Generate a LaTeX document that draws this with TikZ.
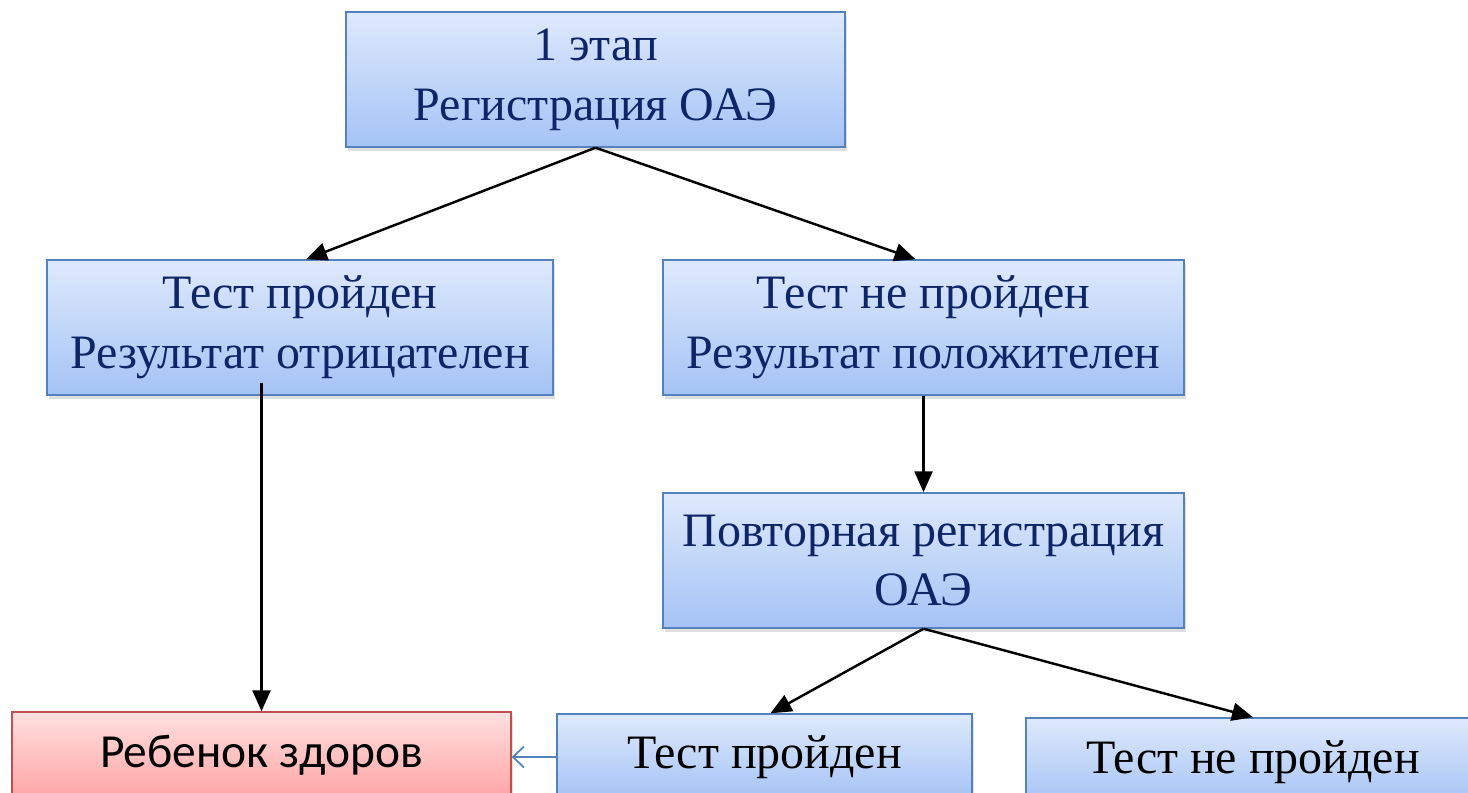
\documentclass[tikz,border=0pt]{standalone}
\usepackage{fontspec}
\setmainfont{Liberation Serif}
\newfontfamily\calfont{Carlito}
\usepackage{tikz}
\usetikzlibrary{arrows.meta,positioning,calc,shadows}
\definecolor{oaenavy}{RGB}{14,38,104}
\definecolor{oaeedge}{RGB}{84,130,190}
\definecolor{oaetop}{RGB}{222,233,252}
\definecolor{oaebot}{RGB}{164,195,245}
\definecolor{okedge}{RGB}{192,80,77}
\definecolor{oktop}{RGB}{255,224,224}
\definecolor{okbot}{RGB}{255,164,164}
\tikzset{
  stagebox/.style={draw=oaeedge, line width=0.8pt, top color=oaetop, bottom color=oaebot,
    minimum height=2.70cm, inner sep=2pt, align=center, text=oaenavy,
    font=\fontsize{27.3}{34}\selectfont,
    drop shadow={shadow xshift=0.04cm, shadow yshift=-0.08cm, opacity=0.25}},
  endbox/.style={stagebox, minimum height=1.72cm, text=black},
  okbox/.style={endbox, draw=okedge, top color=oktop, bottom color=okbot,
    font=\calfont\fontsize{27}{32}\selectfont},
  arr/.style={-{Triangle[length=0.42cm,width=0.36cm]}, black, line width=1.4pt},
  arrb/.style={-{Straight Barb[length=0.22cm,width=0.42cm]}, oaeedge, line width=1pt},
}
\begin{document}
\begin{tikzpicture}
  \useasboundingbox (0,0) rectangle (29.36,-15.86);
  \clip (0,0) rectangle (29.36,-15.86);
  % stages
  \node[stagebox, minimum width=9.98cm] (stage1) at (11.91,-1.59) {1 этап\\Регистрация ОАЭ};
  \node[stagebox, minimum width=10.12cm] (pass1) at (6.00,-6.55) {Тест пройден\\Результат отрицателен};
  \node[stagebox, minimum width=10.42cm] (fail1) at (18.47,-6.55) {Тест не пройден\\Результат положителен};
  \node[stagebox, minimum width=10.42cm] (stage2) at (18.47,-11.21) {Повторная регистрация\\ОАЭ};
  % outcomes
  \node[okbox, minimum width=9.98cm] (healthy) at (5.23,-15.10) {Ребенок здоров};
  \node[endbox, minimum width=8.30cm] (pass2) at (15.29,-15.14) {Тест пройден};
  \node[endbox, minimum width=9.08cm, minimum height=1.76cm] (fail2) at (25.06,-15.24) {Тест не пройден};
  % connectors
  \draw[arr] (stage1.south) -- ([xshift=0.12cm]pass1.north);
  \draw[arr] (stage1.south) -- ([xshift=-0.16cm]fail1.north);
  \draw[arr] ([yshift=0.26cm]pass1.south -| healthy.north) -- (healthy.north);
  \draw[arr] (fail1.south) -- (stage2.north);
  \draw[arr] (stage2.south) -- ([xshift=0.12cm]pass2.north);
  \draw[arr] (stage2.south) -- (fail2.north);
  \draw[arrb] (pass2.west) -- (pass2.west -| healthy.east);
\end{tikzpicture}
\end{document}
